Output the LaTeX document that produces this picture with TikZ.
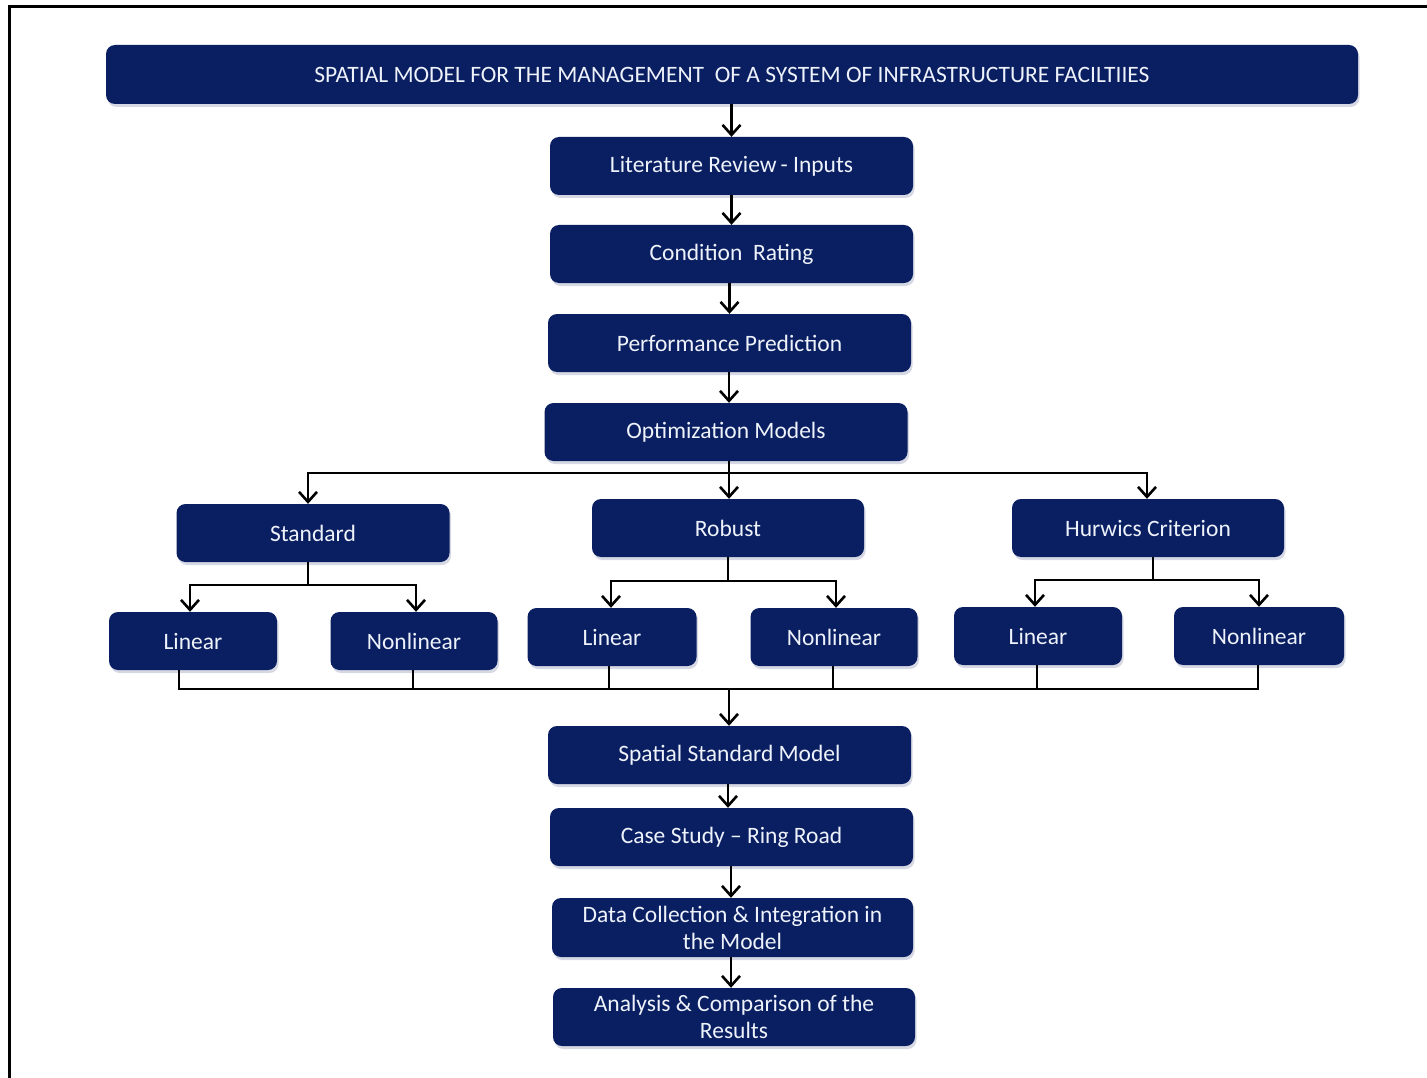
\documentclass[tikz,border=0pt]{standalone}
\usepackage{fontspec}
\setmainfont{Carlito}
\usetikzlibrary{arrows.meta,shadows,calc}
\definecolor{navy}{HTML}{0A1F62}
\definecolor{boxtext}{HTML}{EEF2FA}
\begin{document}
\begin{tikzpicture}[x=1pt,y=-1pt,
  box/.style={rounded corners=9pt, fill=navy, text=boxtext, inner sep=0pt,
    align=center, minimum height=58pt,
    font=\fontsize{23.5}{28}\selectfont,
    drop shadow={shadow xshift=1.5pt, shadow yshift=-3pt, opacity=0.28, fill=navy!60}},
  conn/.style={line width=2.8pt, black},
  arr/.style={conn, -{Straight Barb[length=10pt,width=18pt,line width=2.6pt]}}
]
\useasboundingbox (0,0) rectangle (1427,1078);
\fill[white] (0,0) rectangle (1427,1078);
% frame
\draw[line width=3pt] (9,1078) -- (9,7) -- (1427,7);

% main column
\node[box, minimum width=1252pt, minimum height=59pt, font=\fontsize{23.5}{28}\selectfont] (title) at (732,74.5)
  {SPATIAL MODEL FOR THE MANAGEMENT\ \ OF A SYSTEM OF INFRASTRUCTURE FACILTIIES};
\node[box, minimum width=363pt] (lit)  at (731.5,166) {Literature Review\,- Inputs};
\node[box, minimum width=363pt] (cond) at (731.5,254) {Condition\ \ Rating};
\node[box, minimum width=363pt] (perf) at (729.5,343) {Performance Prediction};
\node[box, minimum width=363pt] (opt)  at (726,432) {Optimization Models};

% second level
\node[box, minimum width=273pt] (std) at (313,533) {Standard};
\node[box, minimum width=272pt] (rob) at (728,528) {Robust};
\node[box, minimum width=272pt] (hur) at (1148,528) {Hurwics Criterion};

% third level
\node[box, minimum width=168pt] (slin) at (193,641) {Linear};
\node[box, minimum width=167pt] (snl)  at (414,641) {Nonlinear};
\node[box, minimum width=169pt] (rlin) at (612,637) {Linear};
\node[box, minimum width=167pt] (rnl)  at (834,637) {Nonlinear};
\node[box, minimum width=168pt] (hlin) at (1038,636) {Linear};
\node[box, minimum width=170pt] (hnl)  at (1259,636) {Nonlinear};

% lower column
\node[box, minimum width=363pt] (ssm)  at (729.5,755) {Spatial Standard Model};
\node[box, minimum width=363pt] (case) at (731.5,837) {Case Study -- Ring Road};
\node[box, minimum width=361pt, minimum height=59pt] (data) at (732.5,927.5)
  {Data Collection \& Integration in\\[-1pt]the Model};
\node[box, minimum width=362pt] (ana) at (734,1017)
  {Analysis \& Comparison of the\\[-1pt]Results};

% connectors main column
\draw[arr] (title.south -| lit) -- (lit.north);
\draw[arr] (lit.south) -- (cond.north);
\draw[arr] (cond.south -| perf) -- (perf.north);
\draw[arr] ([xshift=-0.5pt]perf.south) -- ([xshift=-0.5pt]perf.south |- opt.north);

% branch from optimization
\coordinate (b1) at (729,473);
\draw[conn] ([xshift=3pt]opt.south) -- (b1);
\draw[arr] (b1) -| ([xshift=-5pt]std.north);
\draw[arr] (b1) -| ([xshift=1pt]rob.north);
\draw[arr] (b1) -| ([xshift=-1pt]hur.north);

% standard branch
\coordinate (b2) at (308,585);
\draw[conn] ([xshift=-5pt]std.south) -- (b2);
\draw[arr] (b2) -| ([xshift=-3pt]slin.north);
\draw[arr] (b2) -| ([xshift=2pt]snl.north);

% robust branch
\coordinate (b3) at (728,581);
\draw[conn] (rob.south) -- (b3);
\draw[arr] (b3) -| ([xshift=-1pt]rlin.north);
\draw[arr] (b3) -| ([xshift=2pt]rnl.north);

% hurwics branch
\coordinate (b4) at (1153,580);
\draw[conn] ([xshift=5pt]hur.south) -- (b4);
\draw[arr] (b4) -| ([xshift=-3pt]hlin.north);
\draw[arr] (b4) -| (hnl.north);

% collector
\coordinate (c) at (729,689);
\draw[conn] ([xshift=-14pt]slin.south) |- (c) -| ([xshift=-1pt]hnl.south);
\draw[conn] ([xshift=-1pt]snl.south) -- ([xshift=-1pt]snl.south |- c);
\draw[conn] ([xshift=-3pt]rlin.south) -- ([xshift=-3pt]rlin.south |- c);
\draw[conn] ([xshift=-1pt]rnl.south) -- ([xshift=-1pt]rnl.south |- c);
\draw[conn] ([xshift=-1pt]hlin.south) -- ([xshift=-1pt]hlin.south |- c);
\draw[arr] (c) -- (c |- ssm.north);

% lower column connectors
\draw[arr] ([xshift=-1.5pt]ssm.south) -- ([xshift=-1.5pt]ssm.south |- case.north);
\draw[arr] (case.south -| 731,0) -- (data.north -| 731,0);
\draw[arr] (data.south -| 731,0) -- (ana.north -| 731,0);
\end{tikzpicture}
\end{document}
